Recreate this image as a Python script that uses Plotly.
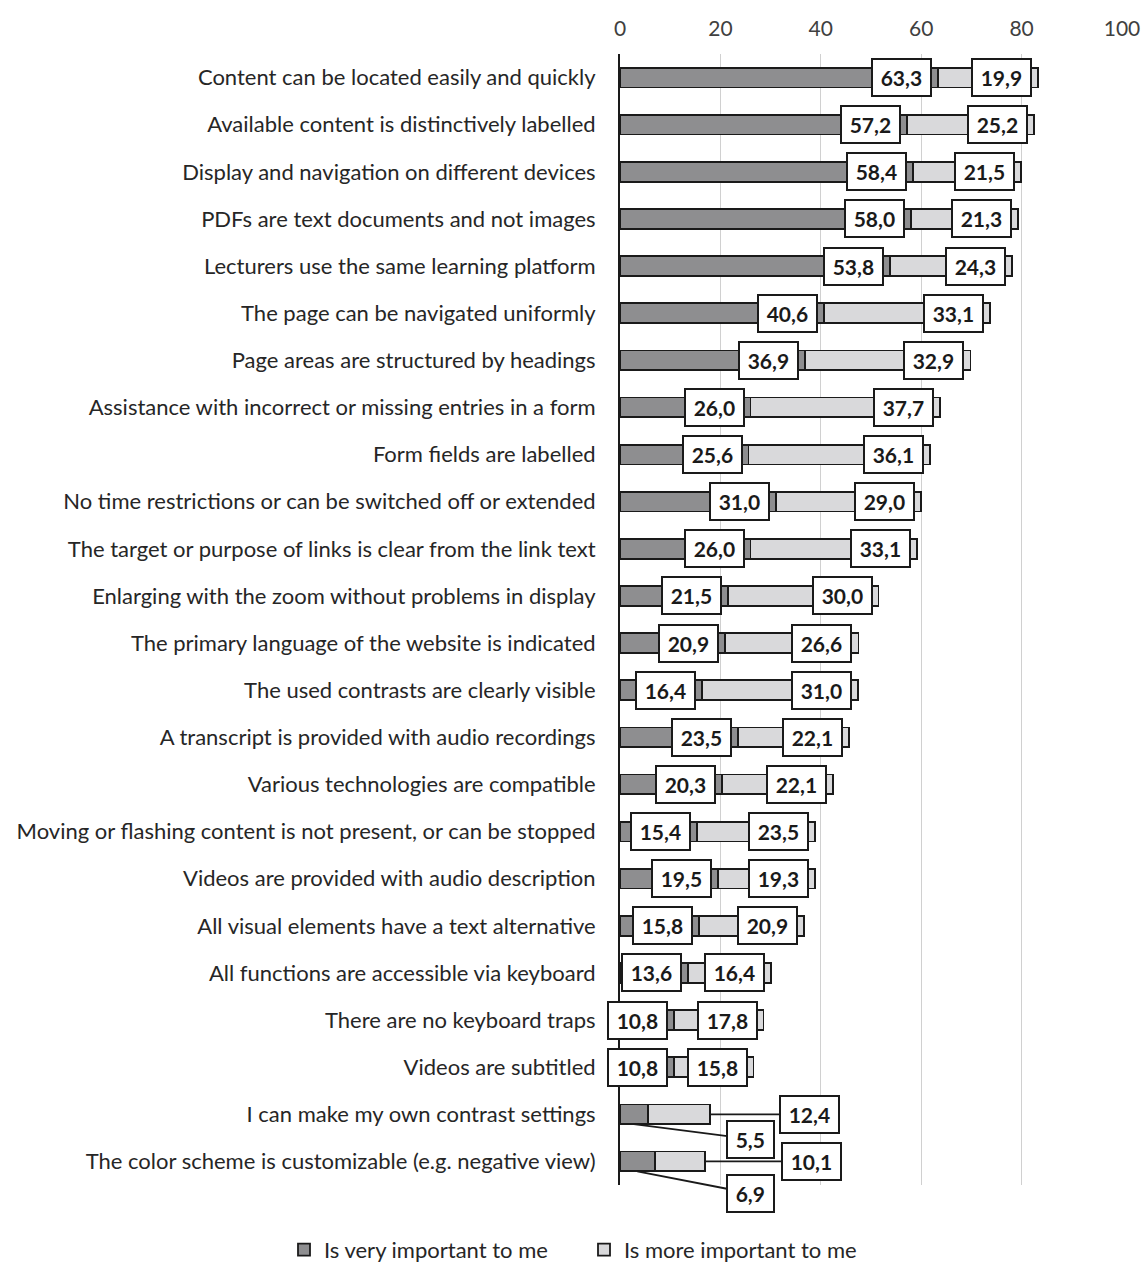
import plotly.graph_objects as go

categories = [
    "Content can be located easily and quickly",
    "Available content is distinctively labelled",
    "Display and navigation on different devices",
    "PDFs are text documents and not images",
    "Lecturers use the same learning platform",
    "The page can be navigated uniformly",
    "Page areas are structured by headings",
    "Assistance with incorrect or missing entries in a form",
    "Form fields are labelled",
    "No time restrictions or can be switched off or extended",
    "The target or purpose of links is clear from the link text",
    "Enlarging with the zoom without problems in display",
    "The primary language of the website is indicated",
    "The used contrasts are clearly visible",
    "A transcript is provided with audio recordings",
    "Various technologies are compatible",
    "Moving or flashing content is not present, or can be stopped",
    "Videos are provided with audio description",
    "All visual elements have a text alternative",
    "All functions are accessible via keyboard",
    "There are no keyboard traps",
    "Videos are subtitled",
    "I can make my own contrast settings",
    "The color scheme is customizable (e.g. negative view)",
]
very_important = [63.3, 57.2, 58.4, 58.0, 53.8, 40.6, 36.9, 26.0, 25.6, 31.0, 26.0, 21.5,
                  20.9, 16.4, 23.5, 20.3, 15.4, 19.5, 15.8, 13.6, 10.8, 10.8, 5.5, 6.9]
more_important = [19.9, 25.2, 21.5, 21.3, 24.3, 33.1, 32.9, 37.7, 36.1, 29.0, 33.1, 30.0,
                  26.6, 31.0, 22.1, 22.1, 23.5, 19.3, 20.9, 16.4, 17.8, 15.8, 12.4, 10.1]
series_names = ["Is very important to me", "Is more important to me"]
x_ticks = [0, 20, 40, 60, 80, 100]
# rows whose labels are drawn as callouts outside the bar
callout_rows = [22, 23]

FONT = "Lato"
DARK = "#8e8e90"
LIGHT = "#d9d9db"
rows = list(range(len(categories)))

fig = go.Figure()
fig.add_trace(go.Bar(y=rows, x=very_important, orientation="h", name=series_names[0],
                     marker=dict(color=DARK, line=dict(color="#1a1a1a", width=1.8)),
                     width=0.42, legend="legend"))
fig.add_trace(go.Bar(y=rows, x=more_important, orientation="h", name=series_names[1],
                     marker=dict(color=LIGHT, line=dict(color="#1a1a1a", width=1.8)),
                     width=0.42, legend="legend2"))

def fmt(v):
    return "\u2009<b>" + f"{v:.1f}".replace(".", ",") + "</b>\u2009"

box = dict(bgcolor="white", bordercolor="#1a1a1a", borderwidth=2, borderpad=5,
           font=dict(family=FONT, size=21, color="#1a1a1a"))
annotations = []
for i in rows:
    a, b = very_important[i], more_important[i]
    if i in callout_rows:
        continue
    annotations.append(dict(x=a, y=i, text=fmt(a), xanchor="right",
                            xshift=-6, showarrow=False, **box))
    annotations.append(dict(x=a + b, y=i, text=fmt(b), xanchor="right",
                            xshift=-6, showarrow=False, **box))

# callouts for the last two rows
callout_offsets = {22: ((117, 15), (100, 0)), 23: ((113, 22), (106, 0))}
for i in callout_rows:
    a, b = very_important[i], more_important[i]
    (dax, day), (lax, lay) = callout_offsets[i]
    annotations.append(dict(x=a / 2, y=i + 0.21, text=fmt(a), showarrow=True,
                            arrowhead=0, arrowwidth=1.8, arrowcolor="#1a1a1a",
                            ax=dax, ay=day, **box))
    annotations.append(dict(x=a + b, y=i, text=fmt(b), showarrow=True,
                            arrowhead=0, arrowwidth=1.8, arrowcolor="#1a1a1a",
                            ax=lax, ay=lay, **box))

legend_common = dict(orientation="h", xref="container", yref="container", y=0.012,
                     xanchor="left", yanchor="middle", font=dict(size=22, color="#262626"),
                     itemwidth=30, bgcolor="rgba(0,0,0,0)")

fig.update_layout(
    barmode="stack",
    width=1145, height=1265,
    margin=dict(l=620, r=23, t=54, b=80, autoexpand=False),
    paper_bgcolor="white", plot_bgcolor="white",
    font=dict(family=FONT, size=22, color="#262626"),
    xaxis=dict(side="top", range=[0, 100], tickvals=x_ticks, ticktext=[str(t) for t in x_ticks],
               showgrid=True, gridcolor="#d0d0d0", gridwidth=1, zeroline=False,
               showline=False, ticks="", tickfont=dict(size=21, color="#404040"),
               ticklabelstandoff=13, fixedrange=True),
    yaxis=dict(range=[23.5, -0.5], tickvals=rows, ticktext=categories,
               showline=True, linecolor="#1a1a1a", linewidth=2, showgrid=False,
               zeroline=False, ticks="", ticklabelstandoff=18,
               tickfont=dict(size=22, color="#262626")),
    legend=dict(x=284 / 1145, **legend_common),
    legend2=dict(x=584 / 1145, **legend_common),
    annotations=annotations,
    showlegend=True,
)

fig.write_html("out.html")
